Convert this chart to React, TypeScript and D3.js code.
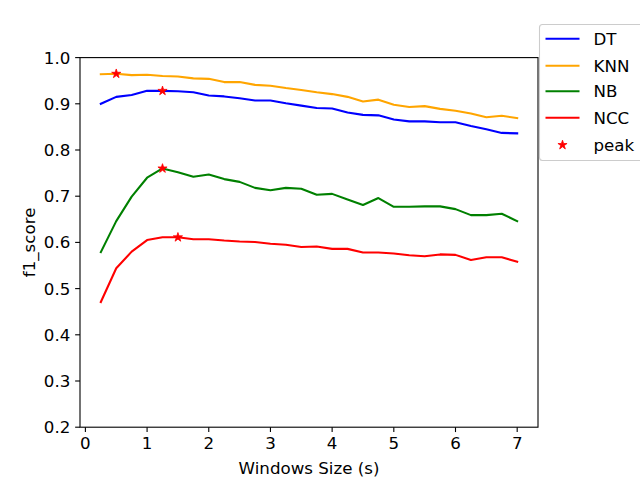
import React from "react";
import * as d3 from "d3";

const windows = [0.25, 0.5, 0.75, 1.0, 1.25, 1.5, 1.75, 2.0, 2.25, 2.5, 2.75, 3.0, 3.25, 3.5, 3.75, 4.0, 4.25, 4.5, 4.75, 5.0, 5.25, 5.5, 5.75, 6.0, 6.25, 6.5, 6.75, 7.0];
const dtScores = [0.900, 0.915, 0.919, 0.928, 0.928, 0.927, 0.925, 0.918, 0.916, 0.912, 0.907, 0.907, 0.901, 0.896, 0.891, 0.890, 0.881, 0.876, 0.875, 0.866, 0.862, 0.862, 0.860, 0.860, 0.852, 0.845, 0.837, 0.836];
const knnScores = [0.964, 0.965, 0.962, 0.963, 0.960, 0.959, 0.955, 0.954, 0.947, 0.947, 0.941, 0.939, 0.934, 0.930, 0.925, 0.921, 0.915, 0.905, 0.909, 0.898, 0.893, 0.895, 0.889, 0.885, 0.879, 0.871, 0.874, 0.869];
const nbScores = [0.579, 0.646, 0.699, 0.740, 0.760, 0.752, 0.742, 0.747, 0.737, 0.731, 0.718, 0.713, 0.718, 0.716, 0.703, 0.705, 0.693, 0.681, 0.696, 0.677, 0.677, 0.678, 0.678, 0.672, 0.659, 0.659, 0.662, 0.646];
const nccScores = [0.471, 0.544, 0.580, 0.605, 0.611, 0.611, 0.607, 0.607, 0.604, 0.602, 0.601, 0.597, 0.595, 0.590, 0.591, 0.586, 0.586, 0.578, 0.578, 0.576, 0.572, 0.570, 0.574, 0.573, 0.562, 0.568, 0.568, 0.558];
const seriesNames = ["DT", "KNN", "NB", "NCC"];
const seriesColors = ["blue", "orange", "green", "red"];
const peakIndex = [4, 1, 4, 5];
const xTicks = [0, 1, 2, 3, 4, 5, 6, 7];
const yTicks = [0.2, 0.3, 0.4, 0.5, 0.6, 0.7, 0.8, 0.9, 1.0];

const W = 640, H = 480;
const L = 80, R = 538, T = 57.6, B = 427.2;
const FONT = "DejaVu Sans, sans-serif";
const FS = 16.67;

export default function App() {
  const allSeries = [dtScores, knnScores, nbScores, nccScores];
  const x = d3.scaleLinear().domain([-0.0875, 7.3375]).range([L, R]);
  const y = d3.scaleLinear().domain([0.2, 1.0]).range([B, T]);
  const line = d3.line<number>().x((_, i) => x(windows[i])).y((d) => y(d));
  const star = d3.symbol().type(d3.symbolStar).size(26)();
  const legendYs = [38.7, 65.7, 91.3, 117.7, 145];

  return (
    <svg width={W} height={H} style={{ position: "absolute", left: 0, top: 0 }} fontFamily={FONT}>
      <rect x={0} y={0} width={W} height={H} fill="white" />
      <defs>
        <clipPath id="plotclip">
          <rect x={L} y={T} width={R - L} height={B - T} />
        </clipPath>
      </defs>
      <g clipPath="url(#plotclip)">
        {allSeries.map((s, k) => (
          <path key={k} d={line(s) || ""} fill="none" stroke={seriesColors[k]} strokeWidth={2.08} strokeLinejoin="round" strokeLinecap="square" />
        ))}
        {allSeries.map((s, k) => (
          <path key={"p" + k} d={star} transform={`translate(${x(windows[peakIndex[k]])},${y(s[peakIndex[k]])})`} fill="red" stroke="red" strokeWidth={0.8} />
        ))}
      </g>
      <rect x={L} y={T} width={R - L} height={B - T} fill="none" stroke="black" strokeWidth={1.1} />
      {xTicks.map((t) => (
        <g key={"x" + t}>
          <line x1={x(t)} x2={x(t)} y1={B} y2={B + 4.86} stroke="black" strokeWidth={1.1} />
          <text x={x(t)} y={B + 22} textAnchor="middle" fontSize={FS} fill="black">{t}</text>
        </g>
      ))}
      {yTicks.map((t) => (
        <g key={"y" + t}>
          <line x1={L - 4.86} x2={L} y1={y(t)} y2={y(t)} stroke="black" strokeWidth={1.1} />
          <text x={L - 9.7} y={y(t) + 6} textAnchor="end" fontSize={FS} fill="black">{t.toFixed(1)}</text>
        </g>
      ))}
      <text x={(L + R) / 2} y={474} textAnchor="middle" fontSize={FS} fill="black">Windows Size (s)</text>
      <text transform={`translate(${35},${(T + B) / 2}) rotate(-90)`} textAnchor="middle" fontSize={FS} fill="black">f1_score</text>
      <g>
        <rect x={539.5} y={24.5} width={110} height={136} rx={3} fill="white" fillOpacity={0.8} stroke="#cccccc" strokeWidth={1.1} />
        {seriesNames.map((n, k) => (
          <g key={"l" + k}>
            <line x1={545.5} x2={579.5} y1={legendYs[k]} y2={legendYs[k]} stroke={seriesColors[k]} strokeWidth={2.08} />
            <text x={593.5} y={legendYs[k] + 6} fontSize={FS} fill="black">{n}</text>
          </g>
        ))}
        <path d={star} transform={`translate(${562.5},${legendYs[4]})`} fill="red" stroke="red" strokeWidth={0.8} />
        <text x={593.5} y={legendYs[4] + 6} fontSize={FS} fill="black">peak</text>
      </g>
    </svg>
  );
}
